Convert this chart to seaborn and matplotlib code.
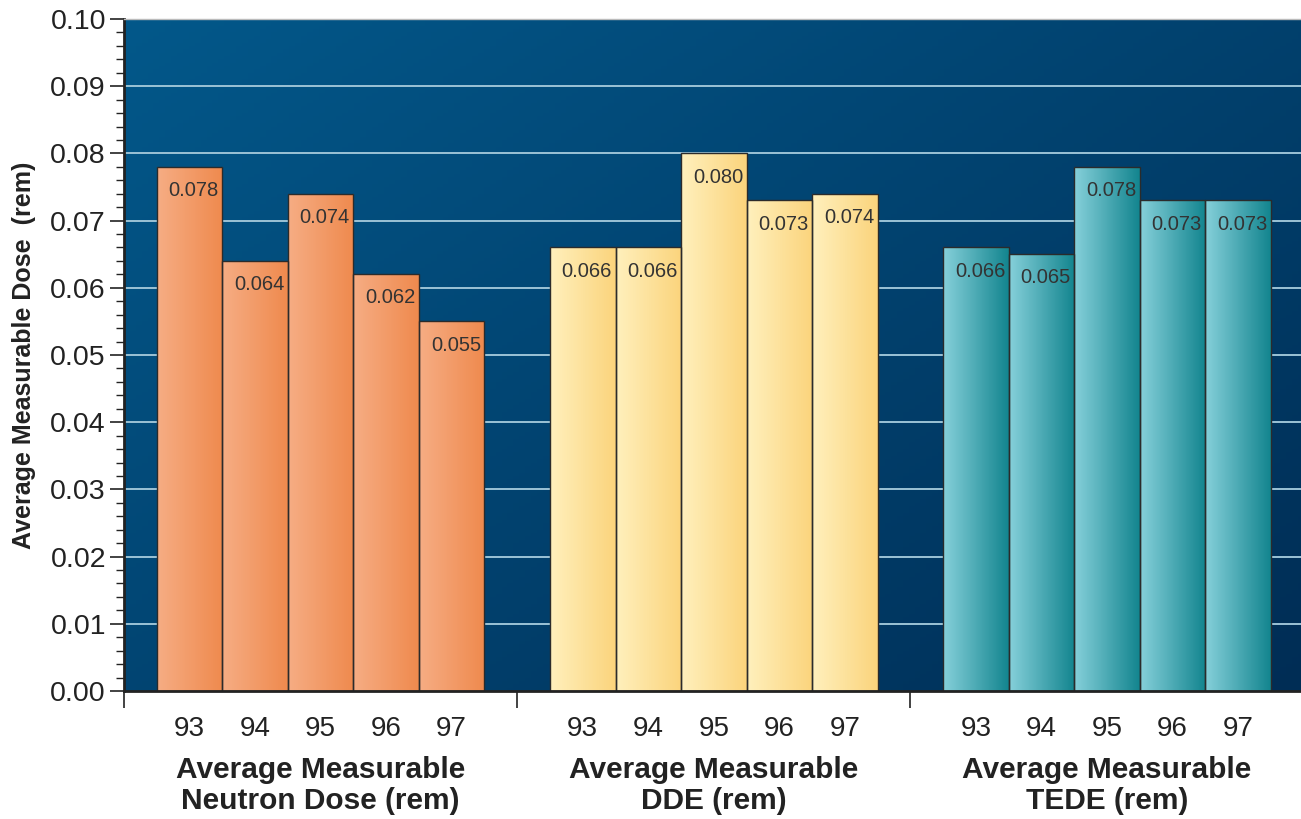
import numpy as np
import pandas as pd
import matplotlib
matplotlib.use('Agg')
import matplotlib.pyplot as plt
from matplotlib.colors import LinearSegmentedColormap
import seaborn as sns

# data
years = ['93', '94', '95', '96', '97']
groups = ['Average Measurable\nNeutron Dose (rem)',
          'Average Measurable\nDDE (rem)',
          'Average Measurable\nTEDE (rem)']
neutron = [0.078, 0.064, 0.074, 0.062, 0.055]
dde = [0.066, 0.066, 0.080, 0.073, 0.074]
tede = [0.066, 0.065, 0.078, 0.073, 0.073]

base_colors = ['#f39a66', '#fde3a0', '#4fb0bc']
grad_colors = [('#f6ad84', '#ef8a4e'), ('#fff0bd', '#fbd47c'), ('#86d0da', '#13858f')]

sns.set_style('ticks')
plt.rcParams['font.family'] = ['Liberation Sans', 'DejaVu Sans']

rows = []
order = []
for gi, vals in enumerate([neutron, dde, tede]):
    for y, v in zip(years, vals):
        slot = 'g%d_%s' % (gi, y)
        rows.append({'slot': slot, 'dose': v, 'group': gi})
        order.append(slot)
    if gi < 2:
        order.append('gap%d' % gi)
df = pd.DataFrame(rows)

fig = plt.figure(figsize=(13.01, 8.19), dpi=100)
ax = fig.add_axes([124 / 1301, 1 - 691 / 819, 1 - 124 / 1301 + 0.002, (691 - 19) / 819])

sns.barplot(data=df, x='slot', y='dose', hue='group', order=order,
            palette=dict(enumerate(base_colors)), dodge=False, width=1.0,
            edgecolor='#2b2b2b', linewidth=1.0, legend=False, ax=ax, zorder=2)

# background gradient
bg = LinearSegmentedColormap.from_list('bg', ['#03588a', '#002d55'])
gx, gy = np.meshgrid(np.linspace(0, 1, 200), np.linspace(0, 1, 200))
ax.imshow(0.55 * gx + 0.45 * gy, cmap=bg, extent=[0, 1, 0, 1], origin='upper',
          transform=ax.transAxes, aspect='auto', zorder=-10)

# horizontal grid
for yv in np.arange(0.01, 0.1, 0.01):
    ax.axhline(yv, color='#9cc3d6', lw=1.4, zorder=0.5)

# gradient fill inside bars
grad = np.linspace(0, 1, 100).reshape(1, -1)
for p in list(ax.patches):
    h = p.get_height()
    if not h or np.isnan(h):
        continue
    x0 = p.get_x()
    w = p.get_width()
    gi = int((x0 + w / 2 + 0.5) // 6)
    cm = LinearSegmentedColormap.from_list('b%d' % gi, grad_colors[gi])
    im = ax.imshow(grad, cmap=cm, extent=[x0, x0 + w, 0, h], aspect='auto', zorder=1.5)
    im.set_clip_path(p)
    p.set_facecolor('none')
    ax.annotate('%.3f' % h, (x0 + w / 2, h), xytext=(3, -17), textcoords='offset points',
                ha='center', va='center', fontsize=14.5, color='#333333', zorder=3)

ax.set_xlim(-1, 17)
ax.set_ylim(0, 0.1)

# y axis
ax.set_yticks(np.arange(0, 0.1001, 0.01))
ax.set_yticklabels(['%.2f' % v for v in np.arange(0, 0.1001, 0.01)], fontsize=20.5, color='#222222')
ax.set_yticks(np.arange(0, 0.1001, 0.002), minor=True)
ax.tick_params(axis='y', which='major', length=10, width=1.2, direction='out', color='#222222', pad=3)
ax.tick_params(axis='y', which='minor', length=6, width=1.0, direction='out', color='#222222')
ax.set_ylabel('Average Measurable Dose  (rem)', fontsize=18, fontweight='bold', color='#222222', labelpad=10)

# x axis: separators as major ticks, years as minor labels
ax.set_xticks([-1, 5, 11, 17])
ax.set_xticklabels([])
pos = [i for i, s in enumerate(order) if not s.startswith('gap')]
ax.set_xticks(pos, minor=True)
ax.set_xticklabels(years * 3, minor=True, fontsize=20, color='#222222')
ax.tick_params(axis='x', which='major', length=12, width=1.2, direction='out', color='#222222')
ax.tick_params(axis='x', which='minor', length=0, pad=18)
ax.set_xlabel('')

for gi, g in enumerate(groups):
    ax.text(gi * 6 + 2, -0.0097, g, ha='center', va='top', fontsize=21.5,
            fontweight='bold', color='#222222', linespacing=1.12)

for s in ['left', 'bottom']:
    ax.spines[s].set_linewidth(2)
    ax.spines[s].set_color('#222222')
ax.spines['top'].set_color('#bbbbbb')
ax.spines['top'].set_linewidth(1)
ax.spines['right'].set_visible(False)

fig.savefig('out.png', dpi=100)
